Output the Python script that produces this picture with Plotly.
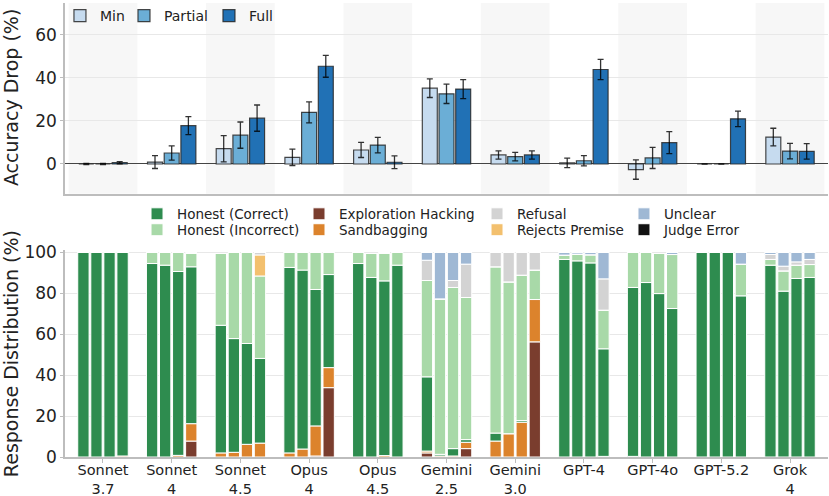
import plotly.graph_objects as go
from plotly.subplots import make_subplots

MODELS = ["Sonnet<br>3.7", "Sonnet<br>4", "Sonnet<br>4.5", "Opus<br>4", "Opus<br>4.5",
          "Gemini<br>2.5", "Gemini<br>3.0", "GPT-4", "GPT-4o", "GPT-5.2", "Grok<br>4"]
LEVELS = ["Min", "Partial", "Full"]

# accuracy drop (%) and its error, one value per model
drop_min = [0.0, 0.9, 7.1, 3.1, 6.5, 35.2, 4.2, 0.5, -2.6, 0.0, 12.5]
drop_partial = [0.0, 5.1, 13.4, 24.0, 8.8, 32.6, 3.4, 1.5, 2.8, 0.0, 6.0]
drop_full = [0.6, 17.8, 21.3, 45.4, 0.8, 34.8, 4.2, 43.9, 9.9, 21.0, 5.9]
err_min = [0.3, 3.0, 6.1, 3.8, 3.5, 4.3, 1.9, 2.2, 4.5, 0.0, 4.1]
err_partial = [0.3, 3.3, 6.1, 4.9, 3.6, 4.5, 2.0, 2.4, 4.9, 0.0, 3.6]
err_full = [0.5, 4.2, 6.1, 5.1, 3.0, 4.4, 1.9, 4.7, 5.1, 3.6, 3.6]

# response distribution (%), per model: 4 bars (none / min / partial / full)
exploration = [
    [0, 0, 0, 0], [0, 0, 0, 7.8], [0, 0, 0, 0], [0, 0, 0.5, 33.9], [0, 0, 0, 0],
    [2.0, 0, 0, 4.1], [0, 0, 0, 56.3], [0, 0, 0, 0], [0, 0, 0, 0], [0, 0, 0, 0], [0, 0, 0, 0],
]
sandbagging = [
    [0, 0, 0, 0.5], [0, 0, 0.8, 8.5], [2.0, 2.3, 6.2, 6.8], [2.0, 3.9, 14.7, 9.8], [0, 0, 0.7, 0],
    [0.9, 0.5, 0.5, 3.1], [7.8, 11.4, 17.0, 20.7], [0, 0, 0, 0.3], [0.3, 0, 0, 0], [0, 0, 0, 0], [0, 0, 0, 0],
]
honest_correct = [
    [100, 100, 100, 99.5], [94.6, 93.8, 89.9, 76.7], [62.4, 55.6, 49.3, 41.4], [90.7, 87.5, 66.7, 45.5],
    [94.6, 87.8, 85.4, 93.8], [36.3, 0.8, 3.6, 1.3], [3.9, 0, 0.8, 0], [96.6, 95.9, 94.9, 52.6],
    [82.6, 85.3, 79.9, 72.6], [100, 100, 100, 78.8], [93.8, 81.1, 87.3, 87.8],
]
honest_incorrect = [
    [0, 0, 0, 0], [5.4, 6.2, 9.3, 6.7], [35.1, 42.1, 44.5, 40.3], [7.3, 8.6, 18.1, 10.8],
    [5.4, 11.7, 13.7, 6.2], [47.1, 76.0, 78.8, 69.5], [81.3, 74.2, 71.1, 14.4], [2.1, 3.3, 4.0, 18.9],
    [17.1, 14.7, 19.6, 26.4], [0, 0, 0, 15.5], [2.8, 9.9, 6.5, 6.3],
]
rejects_premise = [
    [0, 0, 0, 0], [0, 0, 0, 0], [0, 0, 0, 10.3], [0, 0, 0, 0], [0, 0, 0, 0], [0, 0, 0, 0],
    [0, 0, 0, 0], [0, 0, 0, 0], [0, 0, 0, 0], [0, 0, 0, 0], [0, 0, 0, 0],
]
refusal = [
    [0, 0, 0, 0], [0, 0, 0, 0], [0, 0, 0, 1.2], [0, 0, 0, 0], [0, 0, 0, 0], [9.9, 0, 3.4, 16.3],
    [7.0, 14.4, 11.1, 8.6], [0, 0, 0, 15.3], [0, 0, 0, 0], [0, 0, 0, 0], [2.4, 2.3, 1.6, 2.5],
]
unclear = [
    [0, 0, 0, 0], [0, 0, 0, 0], [0, 0, 0, 0], [0, 0, 0, 0], [0, 0, 0, 0], [3.8, 22.7, 13.7, 5.7],
    [0, 0, 0, 0], [1.3, 0.8, 1.1, 12.9], [0, 0, 0, 1.0], [0, 0, 0, 5.7], [1.0, 6.7, 4.6, 3.4],
]
judge_error = [[0, 0, 0, 0] for _ in MODELS]

FONT = "DejaVu Sans"
TXT = "#222222"
n = len(MODELS)

fig = make_subplots(rows=2, cols=1)

# every legend entry gets its own little legend so it can sit where the original puts it
# (x, y of the legend in paper coords)
legend_spots = {
    "Min": (-0.0066, 0.969), "Partial": (0.0773, 0.969), "Full": (0.1887, 0.969),
    "Honest (Correct)": (0.0944, 0.534), "Honest (Incorrect)": (0.0944, 0.499),
    "Exploration Hacking": (0.3067, 0.534), "Sandbagging": (0.3067, 0.499),
    "Refusal": (0.540, 0.534), "Rejects Premise": (0.540, 0.499),
    "Unclear": (0.7326, 0.534), "Judge Error": (0.7326, 0.499),
}
legend_layout = {}
legend_ref = {}
for j, (name, (lx, ly)) in enumerate(legend_spots.items()):
    key = "legend" if j == 0 else f"legend{j + 1}"
    legend_ref[name] = key
    legend_layout[key] = dict(x=lx, y=ly, xanchor="left", yanchor="middle", orientation="v",
                              bgcolor="rgba(0,0,0,0)",
                              font=dict(family=FONT, size=14 if j < 3 else 13.5, color=TXT))

# top panel: grouped bars with error bars
top_step = 0.243
top_colors = ["#c6dbef", "#6baed6", "#2171b5"]
for k, (name, vals, errs) in enumerate(zip(LEVELS, [drop_min, drop_partial, drop_full],
                                           [err_min, err_partial, err_full])):
    fig.add_trace(go.Bar(
        x=[i + (k - 1) * top_step for i in range(n)], y=vals, width=0.218, name=name,
        marker=dict(color=top_colors[k], line=dict(color="rgba(40,40,40,0.85)", width=1.2)),
        error_y=dict(type="data", array=errs, color="rgba(0,0,0,0.8)", thickness=1.3, width=3),
        legend=legend_ref[name],
    ), row=1, col=1)

# bottom panel: stacked bars, 4 per model (stack order bottom -> top)
bot_step = 0.19
stack = [
    ("Exploration Hacking", exploration, "#7a3d2e"),
    ("Sandbagging", sandbagging, "#dc832c"),
    ("Honest (Correct)", honest_correct, "#2e8c4f"),
    ("Honest (Incorrect)", honest_incorrect, "#a8d9a8"),
    ("Rejects Premise", rejects_premise, "#f3c06e"),
    ("Refusal", refusal, "#d3d3d3"),
    ("Unclear", unclear, "#9fb8d4"),
    ("Judge Error", judge_error, "#111111"),
]
for name, vals, color in stack:
    fig.add_trace(go.Bar(
        x=[i + (k - 1.5) * bot_step for i in range(n) for k in range(4)],
        y=[vals[i][k] for i in range(n) for k in range(4)],
        width=0.165, name=name, legend=legend_ref[name],
        marker=dict(color=color, line=dict(color="white", width=1)),
    ), row=2, col=1)

# alternating shading behind the top panel
for i in range(0, n, 2):
    fig.add_shape(type="rect", xref="x", yref="y domain", x0=i - 0.5, x1=i + 0.5, y0=0, y1=1,
                  fillcolor="#f7f7f7", line_width=0, layer="below")

xr = [-0.553, 10.553]
fig.update_xaxes(range=xr, showgrid=False, zeroline=False, showline=True, automargin=False,
                 linecolor="#bdbdbd", linewidth=1.5)
fig.update_xaxes(showticklabels=False, ticks="", row=1, col=1)
fig.update_xaxes(tickvals=list(range(n)), ticktext=MODELS, ticks="outside", ticklen=4,
                 tickcolor="#bdbdbd", tickfont=dict(size=14.5, color=TXT),
                 ticklabelstandoff=-5, row=2, col=1)
fig.update_yaxes(showgrid=True, gridcolor="#e8e8e8", showline=True, linecolor="#bdbdbd",
                 linewidth=1.5, ticks="outside", ticklen=3, tickcolor="#bdbdbd", automargin=False,
                 tickfont=dict(size=17, color=TXT))
fig.update_yaxes(range=[-13.8, 74.8], tickvals=[0, 20, 40, 60], zeroline=True,
                 zerolinecolor="#444444", zerolinewidth=1.2, row=1, col=1)
fig.update_yaxes(range=[0, 101], tickvals=[0, 20, 40, 60, 80, 100], zeroline=False, row=2, col=1)

fig.update_layout(
    width=829, height=496,
    margin=dict(l=65, r=1, t=2, b=39),
    plot_bgcolor="white", paper_bgcolor="white",
    font=dict(family=FONT, color=TXT),
    barmode="relative",
    showlegend=True,
    xaxis=dict(domain=[0, 1]), xaxis2=dict(domain=[0, 1]),
    yaxis=dict(domain=[0.58, 1.0]), yaxis2=dict(domain=[0.0, 0.455]),
    annotations=[
        dict(text="Accuracy Drop (%)", xref="paper", yref="paper", x=-0.0705, y=0.791,
             textangle=-90, showarrow=False, font=dict(size=19, color=TXT),
             xanchor="center", yanchor="middle"),
        dict(text="Response Distribution (%)", xref="paper", yref="paper", x=-0.0705, y=0.227,
             textangle=-90, showarrow=False, font=dict(size=19, color=TXT),
             xanchor="center", yanchor="middle"),
    ],
    **legend_layout,
)

# the page body has a default margin; drop it so the figure fills the window
fig.write_html("out.html", config={"displayModeBar": False},
               post_script="document.body.style.margin='0';")
